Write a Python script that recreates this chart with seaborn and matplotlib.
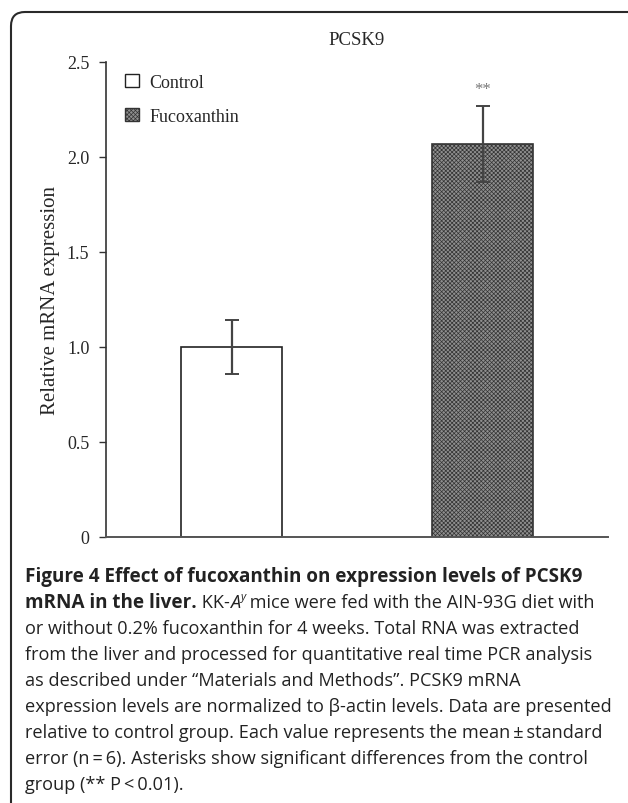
import pandas as pd
import matplotlib
matplotlib.use("Agg")
import matplotlib.pyplot as plt
import seaborn as sns
from matplotlib.patches import Patch, FancyBboxPatch

# data
groups = ["Control", "Fucoxanthin"]
means = [1.0, 2.07]
errors = [0.14, 0.2]
signif = ["", "**"]
yticks = [0, 0.5, 1.0, 1.5, 2.0, 2.5]
ytick_labels = ["0", "0.5", "1.0", "1.5", "2.0", "2.5"]

title = "PCSK9"
ylabel = "Relative mRNA expression"

caption = [
    [("Figure 4 Effect of fucoxanthin on expression levels of PCSK9", "bold")],
    [("mRNA in the liver.", "bold"), (" KK-", "normal"), ("A", "italic"), ("y", "sup"),
     (" mice were fed with the AIN-93G diet with", "normal")],
    [("or without 0.2% fucoxanthin for 4 weeks. Total RNA was extracted", "normal")],
    [("from the liver and processed for quantitative real time PCR analysis", "normal")],
    [("as described under \u201cMaterials and Methods\u201d. PCSK9 mRNA", "normal")],
    [("expression levels are normalized to \u03b2-actin levels. Data are presented", "normal")],
    [("relative to control group. Each value represents the mean\u2009\u00b1\u2009standard", "normal")],
    [("error (n\u2009=\u20096). Asterisks show significant differences from the control", "normal")],
    [("group (** P\u2009<\u20090.01).", "normal")],
]

df = pd.DataFrame({"group": groups, "mean": means, "se": errors})

sns.set_style("white")
plt.rcParams["font.family"] = ["Liberation Serif", "DejaVu Serif"]
plt.rcParams["hatch.linewidth"] = 0.5

W, H = 628, 804
fig = plt.figure(figsize=(W / 100, H / 100), dpi=100)
ax = fig.add_axes([106 / W, 1 - 538 / H, (608 - 106) / W, (538 - 63) / H])

sns.barplot(data=df, x="group", y="mean", width=0.4, color="white",
            edgecolor="#222222", linewidth=1.2, errorbar=None, ax=ax)
bars = ax.patches
bars[0].set_facecolor("white")
bars[1].set_facecolor("#8f8f8f")
bars[1].set_hatch("xxxxxxxx")
bars[1].set_edgecolor("#333333")

ax.errorbar(range(len(groups)), df["mean"], yerr=df["se"], fmt="none",
            ecolor="#444444", elinewidth=1.6, capsize=5, capthick=1.4)
for i, s in enumerate(signif):
    if s:
        ax.text(i, means[i] + errors[i] + 0.09, s, ha="center", va="center",
                fontsize=12, color="#777777")

ax.set_xlim(-0.5, 1.5)
ax.set_ylim(0, 2.5)
ax.set_yticks(yticks)
ax.set_yticklabels(ytick_labels)
ax.set_xticks([])
ax.set_xlabel("")
ax.set_ylabel(ylabel, fontsize=15, labelpad=5)
ax.tick_params(axis="y", direction="out", length=5, width=1, color="#333333",
               labelsize=13, pad=7, left=True)
ax.set_title(title, fontsize=13.5, pad=13)
sns.despine(ax=ax)
ax.spines["left"].set_color("#333333")
ax.spines["bottom"].set_color("#555555")
ax.spines["left"].set_linewidth(1.2)
ax.spines["bottom"].set_linewidth(1.4)

handles = [Patch(facecolor="white", edgecolor="#222222", linewidth=1.0),
           Patch(facecolor="#8f8f8f", edgecolor="#333333", hatch="xxxxxxxx", linewidth=1.0)]
ax.legend(handles, groups, loc="upper left", bbox_to_anchor=(0.038, 0.975),
          frameon=False, fontsize=13, handlelength=0.75, handleheight=0.75,
          handletextpad=0.6, labelspacing=0.95, borderaxespad=0, borderpad=0)

# border round the figure
box = FancyBboxPatch((11, -60), 700, (H - 13) + 60,
                     boxstyle="round,pad=0,rounding_size=14",
                     transform=None, facecolor="none", edgecolor="#2a2a2a", linewidth=1.5)
fig.add_artist(box)

# caption, drawn piece by piece
renderer = fig.canvas.get_renderer()
cap_font = ["Open Sans", "DejaVu Sans"]
reg_size = 13.1
bold_size = 13.6
for k, line in enumerate(caption):
    x = 25
    base = 582 + 26 * k
    for txt, st in line:
        if st == "sup":
            t = fig.text(x / W, 1 - (base - 8) / H, txt, family=cap_font, fontsize=reg_size * 0.62,
                         fontstyle="italic", va="baseline", ha="left", color="#222222")
        elif st == "bold":
            t = fig.text(x / W, 1 - base / H, txt, family=cap_font, fontsize=bold_size,
                         fontweight="bold", va="baseline", ha="left", color="#222222")
        elif st == "italic":
            t = fig.text(x / W, 1 - base / H, txt, family=cap_font, fontsize=reg_size,
                         fontstyle="italic", va="baseline", ha="left", color="#222222")
        else:
            t = fig.text(x / W, 1 - base / H, txt, family=cap_font, fontsize=reg_size,
                         va="baseline", ha="left", color="#222222")
        x += t.get_window_extent(renderer).width

fig.savefig("out.png", dpi=100)
